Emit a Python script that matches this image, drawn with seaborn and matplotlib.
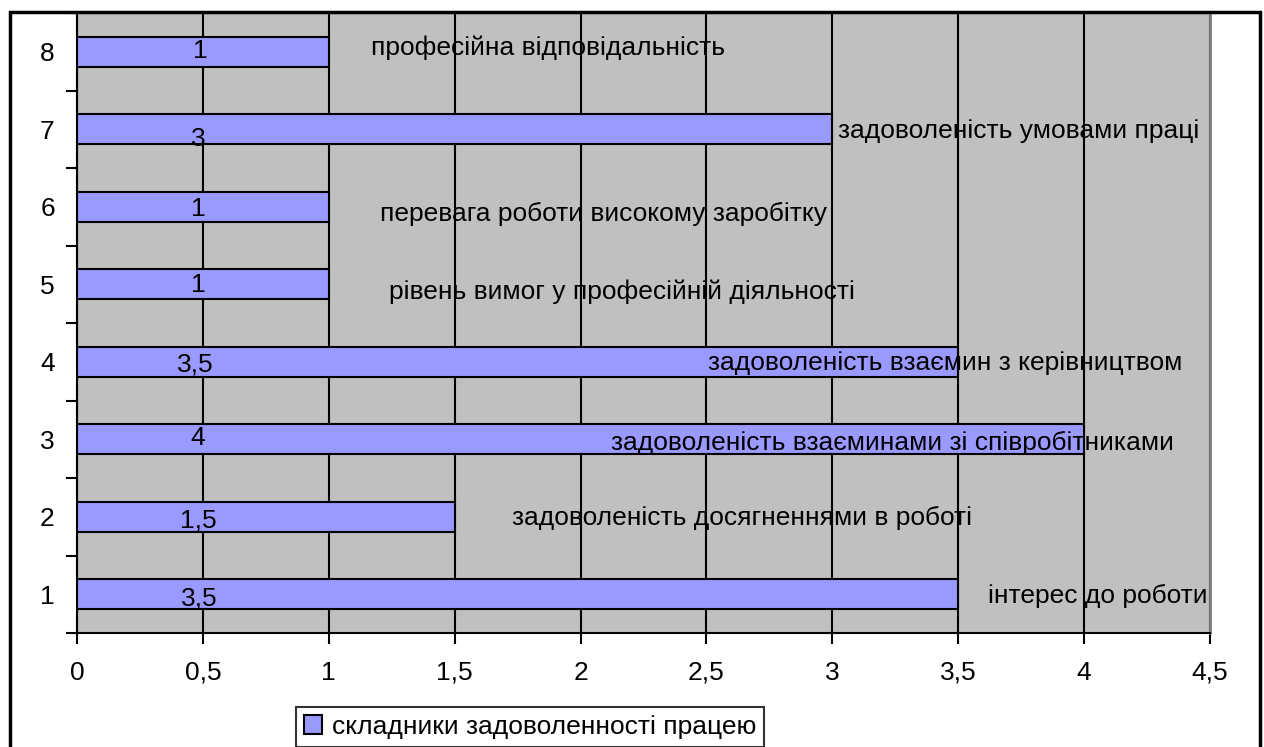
import matplotlib
matplotlib.use('Agg')
import matplotlib.pyplot as plt
from matplotlib.patches import Rectangle
from matplotlib.ticker import FixedLocator, MultipleLocator
import seaborn as sns
import pandas as pd

categories = ['8', '7', '6', '5', '4', '3', '2', '1']
values = [1, 3, 1, 1, 3.5, 4, 1.5, 3.5]
value_texts = ['1', '3', '1', '1', '3,5', '4', '1,5', '3,5']
names = ['професійна відповідальність',
         'задоволеність умовами праці',
         'перевага роботи високому заробітку',
         'рівень вимог у професійній діяльності',
         'задоволеність взаємин з керівництвом',
         'задоволеність взаєминами зі співробітниками',
         'задоволеність досягненнями в роботі',
         'інтерес до роботи']
series_name = 'складники задоволенності працею'

# where the text labels sit (x in data units, y shift in px)
value_x = [0.49, 0.48, 0.48, 0.48, 0.47, 0.48, 0.48, 0.485]
value_dy = [-1, 10, 2, 1, 3, -1, 4, 4]
name_x = [1.87, 3.74, 2.09, 2.165, 3.45, 3.24, 2.64, 4.055]
name_dy = [-4, 2, 7, 8, 1, 4, 1, 2]

df = pd.DataFrame({'cat': categories, 'value': values})

sns.set_style('white')
plt.rcParams['font.family'] = ['Liberation Sans', 'DejaVu Sans']
plt.rcParams['text.color'] = 'black'
plt.rcParams['xtick.color'] = 'black'
plt.rcParams['ytick.color'] = 'black'
fs = 19

W, H = 1264, 747
fig = plt.figure(figsize=(W / 100, H / 100), dpi=100)
ax = fig.add_axes([77 / W, 1 - 633 / H, (1210 - 77) / W, (633 - 13) / H])
ax.set_facecolor('#C0C0C0')

sns.barplot(data=df, x='value', y='cat', order=categories, orient='h',
            color='#9999FF', edgecolor='black', linewidth=1.5, width=0.39,
            saturation=1, label=series_name, ax=ax, zorder=3)

ax.set_xlim(0, 4.5)
ax.set_ylim(7.5, -0.5)
ax.xaxis.set_major_locator(MultipleLocator(0.5))
ax.set_xticklabels([f'{t:g}'.replace('.', ',') for t in ax.get_xticks()], fontsize=fs)
ax.grid(axis='x', color='black', linewidth=1.5, zorder=1)
ax.set_axisbelow(True)
ax.set_xlabel('')
ax.set_ylabel('')

ax.tick_params(axis='x', bottom=True, direction='out', length=8, width=1.5,
               color='black', pad=12)
ax.tick_params(axis='y', which='major', left=True, length=0, pad=16, labelsize=fs)
ax.yaxis.set_minor_locator(FixedLocator([i - 0.5 for i in range(9)]))
ax.tick_params(axis='y', which='minor', left=True, direction='out', length=8,
               width=1.5, color='black')

for s in ['left', 'bottom']:
    ax.spines[s].set_color('black')
    ax.spines[s].set_linewidth(1.5)
ax.spines['top'].set_visible(False)
ax.spines['right'].set_color('#808080')
ax.spines['right'].set_linewidth(2)

band = (633 - 13) / 8
for i in range(len(categories)):
    ax.text(value_x[i], i + value_dy[i] / band, value_texts[i], fontsize=fs,
            ha='center', va='center', zorder=5)
    ax.text(name_x[i], i + name_dy[i] / band, names[i], fontsize=fs,
            ha='center', va='center', zorder=5)

leg = ax.legend(loc='upper left', bbox_to_anchor=(296 / W, 1 - 707 / H),
                bbox_transform=fig.transFigure, fontsize=fs, frameon=True,
                fancybox=False, handlelength=0.7, handleheight=0.7,
                handletextpad=0.35, borderpad=0.3, borderaxespad=0)
leg.get_frame().set_edgecolor('black')
leg.get_frame().set_linewidth(1.5)

fig.patches.append(Rectangle((10 / W, -0.1), 1250 / W, 1.1 - 12 / H, fill=False,
                             edgecolor='black', linewidth=2.5,
                             transform=fig.transFigure, zorder=0))

fig.savefig('out.png', dpi=100)
